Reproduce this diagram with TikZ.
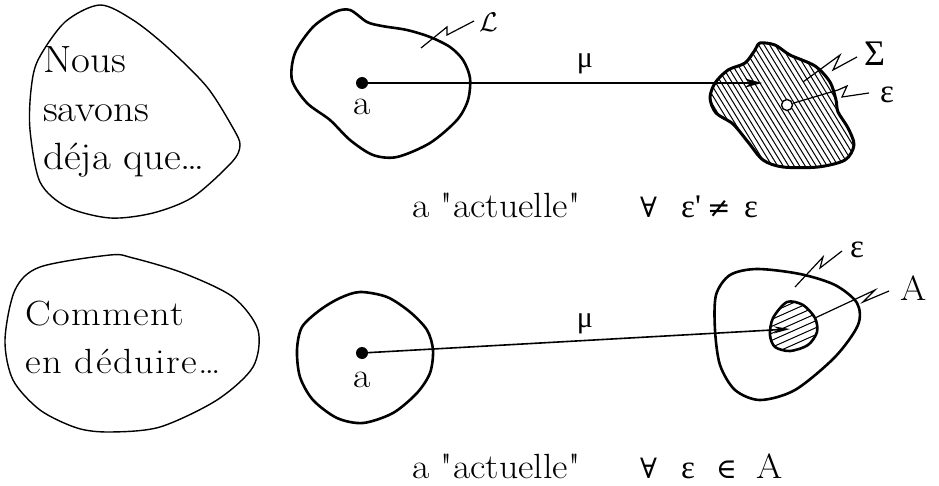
\documentclass[tikz,border=0pt]{standalone}
\usepackage{graphicx}
\usepackage{fontspec}
\usetikzlibrary{arrows.meta}
\newfontfamily\wideA{Latin Modern Roman}[FakeStretch=1.08]
\newfontfamily\wideB{Latin Modern Roman}[FakeStretch=1.1, LetterSpace=4]
\newfontfamily\symf{DejaVu Serif}
\newfontfamily\grkf{Liberation Serif}
\begin{document}
\begin{tikzpicture}[x=1pt,y=-1pt,
  thinblob/.style={line width=1.4pt, line join=round},
  thickblob/.style={line width=2.6pt, line join=round},
  arr/.style={line width=1.6pt, -{Stealth[length=17pt,width=9pt]}},
  dotnode/.style={circle, fill=black, inner sep=0pt, minimum size=12pt},
  odot/.style={circle, draw=black, fill=white, line width=1.4pt, inner sep=0pt, minimum size=11pt},
  zig/.style={line width=1.2pt, line join=miter},
  hatch/.style={line width=1.0pt},
  big/.style={font=\wideA\fontsize{38}{48.5}\selectfont, inner sep=0pt},
  mid/.style={font=\wideB\fontsize{35}{48}\selectfont, inner sep=0pt},
  lbl/.style={font=\wideA\fontsize{35}{40}\selectfont, inner sep=0pt},
  sym/.style={font=\symf\fontsize{28}{34}\selectfont, inner sep=0pt},
  grk/.style={font=\grkf\fontsize{33}{38}\selectfont, inner sep=0pt}]
\useasboundingbox (0,0) rectangle (939,486);

% ---------- top row ----------
\draw[thinblob] plot[smooth cycle] coordinates {(100,5) (133,20) (167,47) (207,87) (233,128) (240,145) (232,162) (193,197) (153,213) (110,218) (67,207) (40,182) (30,130) (31,90) (38,60) (65,22)};
\node[big, anchor=base west] (t1) at (43,73) {Nous};
\node[big, anchor=base west] (t2) at (43,122) {savons};
\node[big, anchor=base west] (t3) at (43,170) {déja que\ldots};

\draw[thickblob] plot[smooth cycle] coordinates {(350,10) (367,22) (382,26) (407,30) (430,37) (450,47) (463,60) (470,78) (468,100) (457,120) (430,143) (397,157) (373,155) (350,140) (330,120) (307,103) (292,80) (295,53) (313,27) (335,12)};
\node[dotnode] (a1) at (362,83) {};
\node[lbl, anchor=base] (la1) at (362,115) {a};
\node[anchor=base west, inner sep=0pt, font=\fontsize{10}{12}\selectfont] (lL) at (479,32) {\scalebox{2.7}{$\mathcal{L}$}};
\coordinate (zL) at (421,48);
\draw[zig] (zL) -- (447,27) -- (447,35) -- (474,21);

\draw[thickblob, line width=3pt, path picture={
    \foreach \x in {590,595.5,...,880} \draw[hatch] (\x,30) -- ++(107,175);
  }] plot[smooth cycle] coordinates {(760,43) (775,45) (790,55) (815,66) (830,82) (836,100) (838,112) (848,128) (854,145) (845,160) (818,167) (783,167) (763,160) (748,142) (733,124) (716,113) (710,98) (715,83) (728,70) (745,63) (755,50)};
\coordinate (tip1) at (762,83);
\draw[arr] (a1) -- (tip1);
\node[grk, anchor=base, font=\grkf\fontsize{30}{34}\selectfont] (mu1) at (585,68) {μ};
\node[odot] (e1) at (787,105) {};
\node[grk, anchor=base west, font=\grkf\fontsize{36}{40}\selectfont] (lS) at (864,66) {Σ};
\node[grk, anchor=base west] (lE1) at (880,103) {ε};
\coordinate (zS) at (803,82);
\draw[zig] (zS) -- (840,55) -- (833,70) -- (857,57);
\draw[zig] (e1) -- (838,90) -- (847,86) -- (842,97) -- (869,93);

\node[lbl, anchor=base west] (f1) at (412,218) {a "actuelle"};
\node[sym, anchor=base west] (f2) at (640,218) {∀};
\node[grk, anchor=base west] (f3) at (681,218) {ε'};
\node[sym, anchor=base west] (f4) at (707,218) {≠};
\node[grk, anchor=base west] (f5) at (744,218) {ε};

% ---------- bottom row ----------
\draw[thinblob] plot[smooth cycle] coordinates {(110,255) (133,258) (183,273) (233,297) (258,330) (253,367) (217,400) (160,427) (110,432) (77,428) (40,410) (13,380) (5,340) (15,290) (40,267)};
\node[mid, anchor=base west] (b1) at (25,325) {Comment};
\node[mid, anchor=base west] (b2) at (25,373) {en déduire\ldots};

\draw[thickblob] plot[smooth cycle] coordinates {(360,292) (387,297) (410,312) (427,330) (433,350) (430,373) (417,393) (393,413) (363,423) (337,418) (313,400) (300,377) (297,350) (302,327) (320,310) (340,298)};
\node[dotnode] (a2) at (362,353) {};
\node[lbl, anchor=base] (la2) at (362,387) {a};

\draw[thickblob] plot[smooth cycle] coordinates {(757,269) (800,274) (835,285) (857,303) (858,325) (835,357) (795,390) (760,400) (735,390) (720,365) (715,330) (716,295) (730,275)};
\draw[thickblob, path picture={
    \foreach \y in {280,287,...,410} \draw[hatch] (750,\y) -- ++(90,-40);
  }] plot[smooth cycle] coordinates {(787,302) (803,305) (815,318) (817,332) (808,345) (790,351) (775,347) (770,335) (773,318)};
\coordinate (tip2) at (790,329);
\draw[arr, -{Stealth[length=16pt,width=7pt]}] (a2) -- (tip2);
\node[grk, anchor=base, font=\grkf\fontsize{30}{34}\selectfont] (mu2) at (585,327) {μ};
\node[grk, anchor=base west] (lE2) at (850,258) {ε};
\node[lbl, anchor=base west] (lA) at (900,300) {A};
\coordinate (zE) at (795,287);
\draw[zig] (zE) -- (823,257) -- (820,268) -- (842,251);
\coordinate (zA) at (815,318);
\draw[zig] (zA) -- (875,290) -- (863,302) -- (889,291);

\node[lbl, anchor=base west] (g1) at (412,478) {a "actuelle"};
\node[sym, anchor=base west] (g2) at (640,478) {∀};
\node[grk, anchor=base west] (g3) at (681,478) {ε};
\node[sym, anchor=base west] (g4) at (716,478) {∈};
\node[lbl, anchor=base west] (g5) at (756,478) {A};
\end{tikzpicture}
\end{document}
